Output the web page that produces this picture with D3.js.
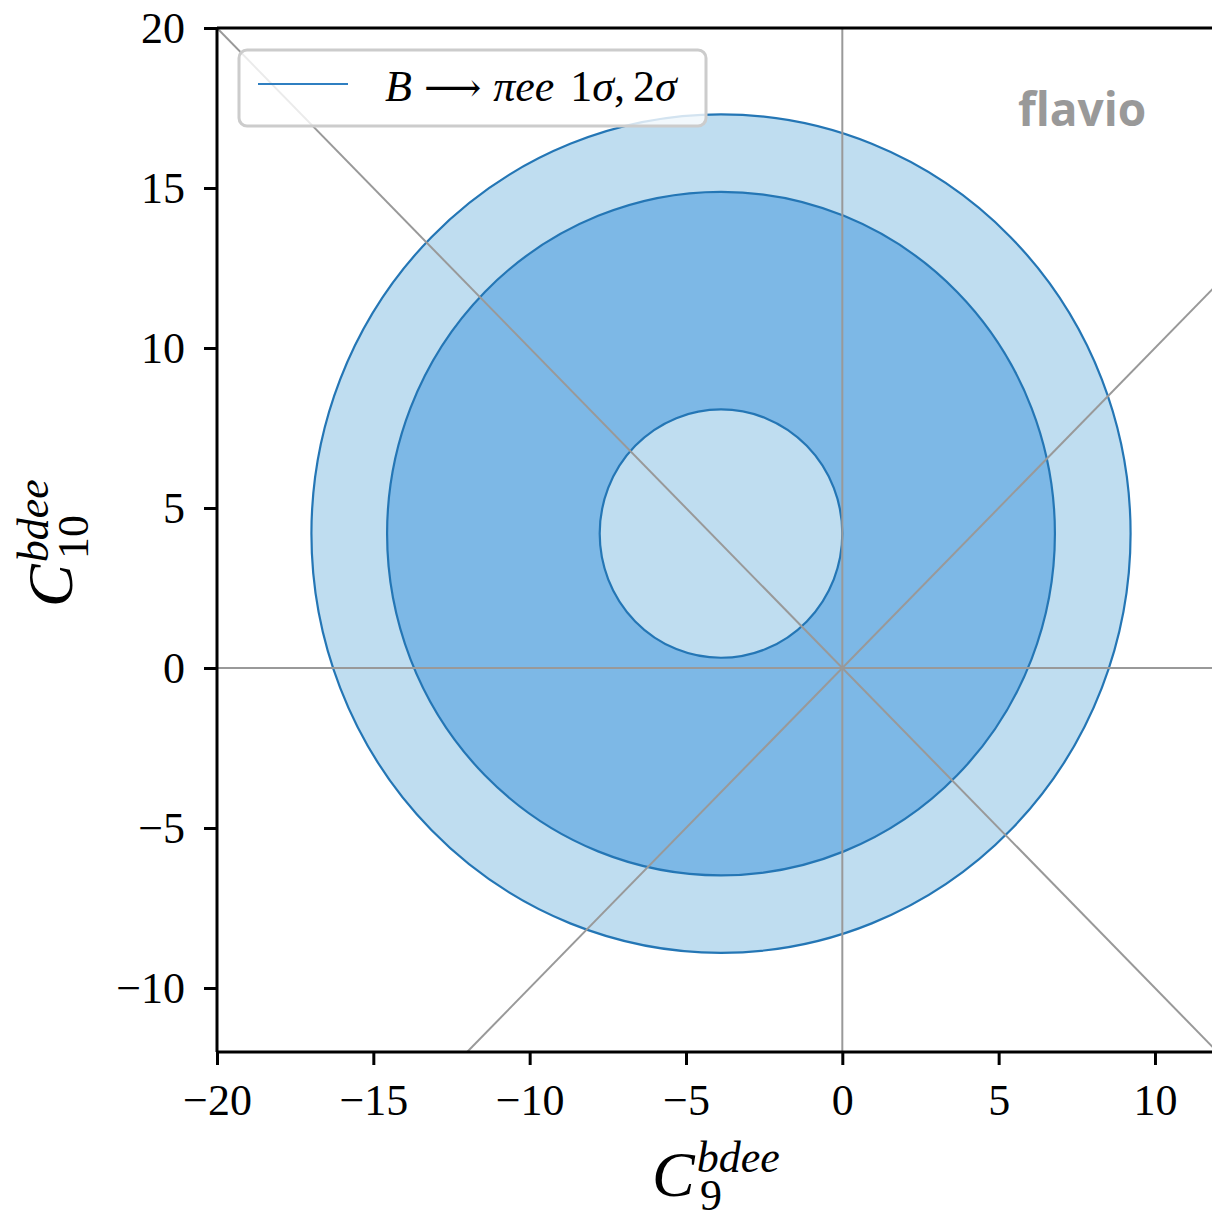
<!DOCTYPE html>
<html><head><meta charset="utf-8">
<script src="https://cdn.jsdelivr.net/npm/d3@7"></script>
<style>
body{margin:0;background:#fff;}
svg{display:block;}
</style></head>
<body>
<svg id="chart" width="1212" height="1212"></svg>
<script>
// ---- data ----
const xDomain = [-20, 12];
const yDomain = [-12, 20];
const xTicks = [-20, -15, -10, -5, 0, 5, 10];
const yTicks = [-10, -5, 0, 5, 10, 15, 20];
const contourCenter = [-3.88, 4.2];
const contourNames = ["2σ outer", "1σ outer", "1σ inner"];
const contourRadii = [13.1, 10.68, 3.88];
const contourFills = ["#bfddf0", "#7db8e6", "#bfddf0"];
const guideLines = [ // [x1,y1,x2,y2] in data coords
  [0, -12, 0, 20],
  [-20, 0, 12, 0],
  [-20, 20, 12, -12],
  [-12, -12, 12, 12]
];

// ---- layout ----
const svg = d3.select("#chart");
const L = 217, R = 1217.5, T = 28, B = 1052;
const x = d3.scaleLinear().domain(xDomain).range([L, R]);
const y = d3.scaleLinear().domain(yDomain).range([B, T]);

svg.append("defs").append("clipPath").attr("id", "clip")
  .append("rect").attr("x", L).attr("y", T).attr("width", R - L).attr("height", B - T);

const plot = svg.append("g").attr("clip-path", "url(#clip)");

contourRadii.forEach((r, i) => {
  plot.append("ellipse")
    .attr("cx", x(contourCenter[0]))
    .attr("cy", y(contourCenter[1]))
    .attr("rx", x(contourCenter[0] + r) - x(contourCenter[0]))
    .attr("ry", y(contourCenter[1]) - y(contourCenter[1] + r))
    .attr("fill", contourFills[i])
    .attr("stroke", "#2476b5")
    .attr("stroke-width", 2.2);
});

guideLines.forEach(d => {
  plot.append("line")
    .attr("x1", x(d[0])).attr("y1", y(d[1]))
    .attr("x2", x(d[2])).attr("y2", y(d[3]))
    .attr("stroke", "#999").attr("stroke-width", 2);
});

// axes
const tickFont = "'Liberation Serif', 'DejaVu Serif', serif";
const fmt = v => v < 0 ? "\u2212" + Math.abs(v) : String(v);

const xAxis = svg.append("g").attr("transform", `translate(0,${B})`)
  .call(d3.axisBottom(x).tickValues(xTicks).tickFormat(fmt).tickSize(13).tickPadding(19));
const yAxis = svg.append("g").attr("transform", `translate(${L},0)`)
  .call(d3.axisLeft(y).tickValues(yTicks).tickFormat(fmt).tickSize(13).tickPadding(19));
[xAxis, yAxis].forEach(a => {
  a.select(".domain").attr("stroke", "#000").attr("stroke-width", 3);
  a.selectAll(".tick line").attr("stroke", "#000").attr("stroke-width", 3);
  a.selectAll(".tick text").attr("font-family", tickFont).attr("font-size", 44).attr("fill", "#000");
});
xAxis.select(".domain").attr("d", `M${L},0H${R}`);
yAxis.select(".domain").attr("d", `M0,${B}V${T}`);
// top spine
svg.append("line").attr("x1", L).attr("x2", R).attr("y1", T).attr("y2", T)
  .attr("stroke", "#000").attr("stroke-width", 3);
svg.append("line").attr("x1", R).attr("x2", R).attr("y1", T).attr("y2", B)
  .attr("stroke", "#000").attr("stroke-width", 3);

// axis labels
const xl = svg.append("text").attr("x", 652).attr("y", 1196)
  .attr("font-family", tickFont).attr("fill", "#000");
xl.append("tspan").attr("font-style", "italic").attr("font-size", 64).text("C");
xl.append("tspan").attr("font-style", "italic").attr("font-size", 44).attr("dy", -24).attr("dx", 2).text("bdee");
xl.append("tspan").attr("font-size", 44).attr("x", 700).attr("dy", 38).text("9");

const yl = svg.append("text").attr("transform", "translate(72,607) rotate(-90)")
  .attr("font-family", tickFont).attr("fill", "#000");
yl.append("tspan").attr("font-style", "italic").attr("font-size", 64).text("C");
yl.append("tspan").attr("font-style", "italic").attr("font-size", 44).attr("dy", -24).attr("dx", 2).text("bdee");
yl.append("tspan").attr("font-size", 44).attr("x", 48).attr("dy", 40).text("10");

// legend
svg.append("rect").attr("x", 239).attr("y", 50).attr("width", 467).attr("height", 76)
  .attr("rx", 8).attr("fill", "#fff").attr("fill-opacity", 0.8)
  .attr("stroke", "#ccc").attr("stroke-width", 3);
svg.append("line").attr("x1", 258).attr("x2", 348).attr("y1", 84).attr("y2", 84)
  .attr("stroke", "#2f7fc1").attr("stroke-width", 2);
const lt = svg.append("text").attr("x", 385).attr("y", 101)
  .attr("font-family", tickFont).attr("font-size", 44).attr("fill", "#000");
lt.append("tspan").attr("font-style", "italic").text("B");
lt.append("tspan").attr("font-family", "'DejaVu Serif', serif").attr("font-size", 40).attr("dx", 12).text("\u27F6");
lt.append("tspan").attr("font-style", "italic").attr("dx", 12).text("πee");
lt.append("tspan").attr("dx", 16).text("1");
lt.append("tspan").attr("font-style", "italic").text("σ");
lt.append("tspan").text(",");
lt.append("tspan").attr("dx", 8).text("2");
lt.append("tspan").attr("font-style", "italic").text("σ");

// watermark
svg.append("text").attr("x", 1018).attr("y", 126)
  .attr("font-family", "'Open Sans', sans-serif").attr("font-weight", "bold")
  .attr("font-size", 46).attr("fill", "#999").text("flavio");
</script>
</body></html>
